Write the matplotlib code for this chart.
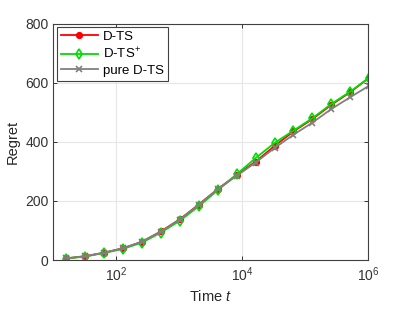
import numpy as np
import matplotlib.pyplot as plt

plt.rcParams['font.family'] = ['Liberation Sans', 'DejaVu Sans']
plt.rcParams['mathtext.fontset'] = 'custom'
plt.rcParams['mathtext.it'] = 'Liberation Sans:italic'
plt.rcParams['mathtext.rm'] = 'Liberation Sans'

# horizon points t = 2^4 ... 2^20
t = 2.0 ** np.arange(4, 21)
dts = [6, 13, 25, 40, 62, 97, 138, 188, 240, 288, 333, 386, 435, 477, 525, 568, 617]
dts_plus = [5, 12, 24, 38, 59, 93, 133, 182, 236, 290, 345, 396, 438, 480, 528, 570, 617]
pure_dts = [6, 13, 25, 40, 62, 96, 137, 187, 239, 285, 330, 379, 424, 465, 511, 551, 590]

labels = ['D-TS', 'D-TS$^{+}$', 'pure D-TS']

fig = plt.figure(figsize=(4.07, 3.10), dpi=100)
ax = fig.add_axes([0.131, 0.161, 0.773, 0.763])

ax.plot(t, dts, color='#ff0000', marker='o', markersize=4.2, linewidth=1.3,
        label=labels[0])
ax.plot(t, dts_plus, color='#00dd00', marker='d', markersize=4.8, linewidth=1.3,
        markerfacecolor='none', markeredgewidth=1.2, label=labels[1])
ax.plot(t, pure_dts, color='#808080', marker='x', markersize=4.5, linewidth=1.3,
        markeredgewidth=1.2, label=labels[2])

ax.set_xscale('log')
ax.set_xlim(10, 1e6)
ax.set_ylim(0, 800)
ax.set_xticks([1e2, 1e4, 1e6])
ax.set_yticks([0, 200, 400, 600, 800])
ax.minorticks_off()

ax.grid(True, color='#e6e6e6', linewidth=0.8)
ax.set_axisbelow(True)
ax.tick_params(direction='in', top=True, right=True, length=3, labelsize=10,
               colors='#333333', width=0.7)
for s in ax.spines.values():
    s.set_color('#404040')
    s.set_linewidth(0.8)

ax.set_xlabel('Time $t$', fontsize=10.5, color='#262626')
ax.set_ylabel('Regret', fontsize=10.5, color='#262626')

leg = ax.legend(loc='upper left', fontsize=9.5, fancybox=False, framealpha=1,
                edgecolor='#404040', borderpad=0.3, handlelength=2.8,
                labelspacing=0.25, borderaxespad=0.25, handletextpad=0.4)
leg.get_frame().set_linewidth(0.8)

fig.savefig('out.png', dpi=100)
